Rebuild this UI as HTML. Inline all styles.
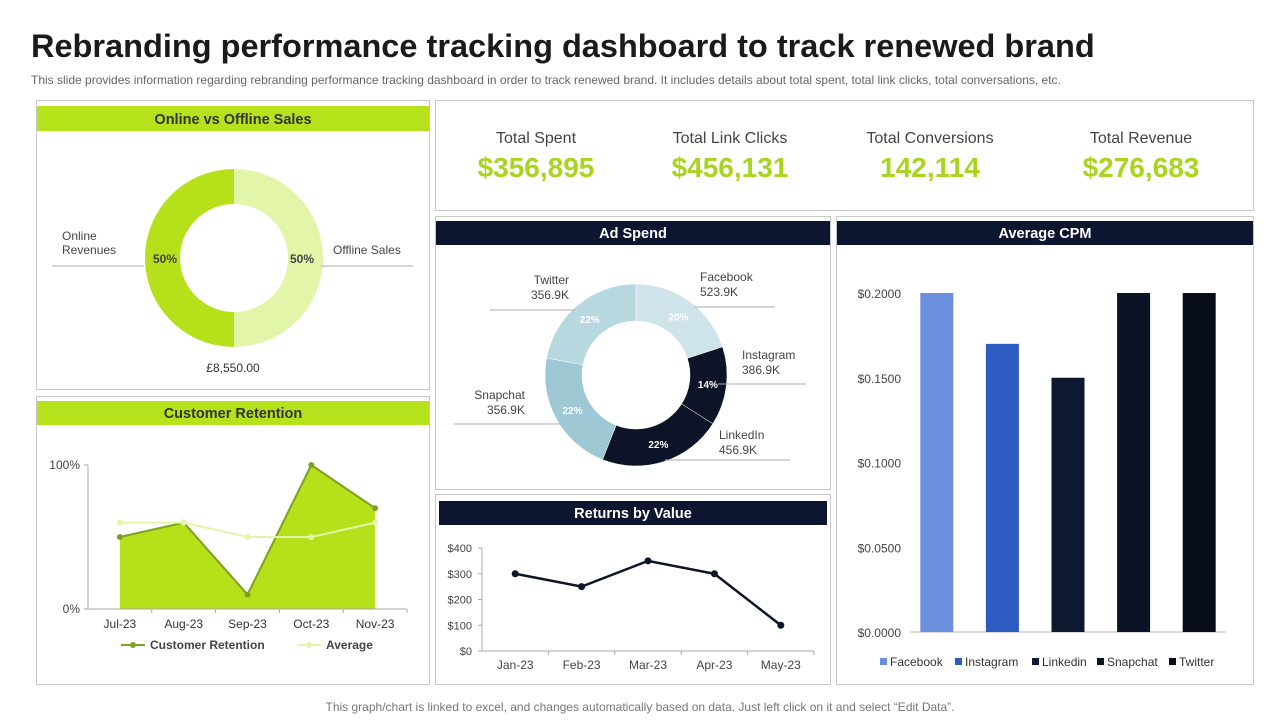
<!DOCTYPE html>
<html><head><meta charset="utf-8"><style>
body{margin:0;background:#fff;width:1280px;height:720px;overflow:hidden;font-family:"Liberation Sans",Arial,sans-serif}
svg{display:block}
text{font-family:"Liberation Sans",Arial,sans-serif}
</style></head><body>
<svg id="s" width="1280" height="720" viewBox="0 0 1280 720">
<text x="31" y="57" font-size="32.5" font-weight="bold" fill="#1a1a1a">Rebranding performance tracking dashboard to track renewed brand</text>
<text x="31" y="84" font-size="12" fill="#666">This slide provides information regarding rebranding performance tracking dashboard in order to track renewed brand. It includes details about total spent, total link clicks, total conversations, etc.</text>
<text x="640" y="711" font-size="12" fill="#777" text-anchor="middle">This graph/chart is linked to excel,  and changes automatically based on data. Just left click on it and select “Edit Data”.</text>

<g fill="#fff" stroke="#c8c8c8" stroke-width="1">
<rect x="36.5" y="100.5" width="393" height="289"/>
<rect x="36.5" y="396.5" width="393" height="288"/>
<rect x="435.5" y="100.5" width="818" height="110"/>
<rect x="435.5" y="216.5" width="395" height="273"/>
<rect x="435.5" y="494.5" width="395" height="190"/>
<rect x="836.5" y="216.5" width="417" height="468"/>
</g>
<rect x="37" y="106" width="392" height="25" fill="#b5e21a"/>
<text x="233" y="124" font-size="14.5" font-weight="bold" fill="#333" text-anchor="middle">Online vs Offline Sales</text>
<rect x="37" y="401" width="392" height="24" fill="#b5e21a"/>
<text x="233" y="418" font-size="14.5" font-weight="bold" fill="#333" text-anchor="middle">Customer Retention</text>
<rect x="436" y="221" width="394" height="24" fill="#0d1630"/>
<text x="633" y="238" font-size="14.5" font-weight="bold" fill="#fff" text-anchor="middle">Ad Spend</text>
<rect x="439" y="501" width="388" height="24" fill="#0d1630"/>
<text x="633" y="518" font-size="14.5" font-weight="bold" fill="#fff" text-anchor="middle">Returns by Value</text>
<rect x="837" y="221" width="416" height="24" fill="#0d1630"/>
<text x="1045" y="238" font-size="14.5" font-weight="bold" fill="#fff" text-anchor="middle">Average CPM</text>

<g id="kpis"></g>
<g id="od"></g>
<g id="ret"></g>
<g id="ad"></g>
<g id="rv"></g>
<g id="cpm"></g>
</svg>
<script>
const kpiLabels=["Total Spent","Total Link Clicks","Total Conversions","Total Revenue"];
const kpiValues=["$356,895","$456,131","142,114","$276,683"];
const onlineLabels=["Online Revenues","Offline Sales"];
const onlineShares=[50,50];
const retMonths=["Jul-23","Aug-23","Sep-23","Oct-23","Nov-23"];
const retValues=[50,60,10,100,70];
const retAverage=[60,60,50,50,60];
const adCats=["Facebook","Instagram","LinkedIn","Snapchat","Twitter"];
const adPct=[20,14,22,22,22];
const adVals=["523.9K","386.9K","456.9K","356.9K","356.9K"];
const rvMonths=["Jan-23","Feb-23","Mar-23","Apr-23","May-23"];
const rvValues=[300,250,350,300,100];
const rvTicks=[0,100,200,300,400];
const cpmCats=["Facebook","Instagram","Linkedin","Snapchat","Twitter"];
const cpmValues=[0.2,0.17,0.15,0.2,0.2];
const cpmTicks=[0,0.05,0.1,0.15,0.2];

const NS="http://www.w3.org/2000/svg";
function mk(p,tag,at,txt){const e=document.createElementNS(NS,tag);for(const k in at)e.setAttribute(k,at[k]);if(txt!=null)e.textContent=txt;p.appendChild(e);return e;}
function arc(cx,cy,r0,r1,a0,a1){const p=(r,a)=>[cx+r*Math.sin(a),cy-r*Math.cos(a)];const l=(a1-a0)>Math.PI?1:0;
const [x1,y1]=p(r1,a0),[x2,y2]=p(r1,a1),[x3,y3]=p(r0,a1),[x4,y4]=p(r0,a0);
return `M${x1} ${y1}A${r1} ${r1} 0 ${l} 1 ${x2} ${y2}L${x3} ${y3}A${r0} ${r0} 0 ${l} 0 ${x4} ${y4}Z`;}

// KPIs
const kg=document.getElementById('kpis');const kx=[536,730,930,1141];
kpiLabels.forEach((l,i)=>{
 const t=mk(kg,'text',{x:kx[i],y:143,'font-size':16,fill:'#444','text-anchor':'middle'},l);
 
 
 const v=mk(kg,'text',{x:kx[i],y:177,'font-size':28,'font-weight':'bold',fill:'#a9d420','text-anchor':'middle'},kpiValues[i]);
 
 
});

// Online vs offline donut
const og=document.getElementById('od');
{const cx=234,cy=258,tot=onlineShares.reduce((a,b)=>a+b,0);let a=0;const cols=["#e2f5a8","#b5e01a"];
 const order=[1,0];
 order.forEach((idx,j)=>{const s=onlineShares[idx]/tot*2*Math.PI;
  const p=mk(og,'path',{d:arc(cx,cy,54,89,a,a+s-0.0001),fill:cols[j]});
  
  
  a+=s;});
 mk(og,'line',{x1:52,y1:266,x2:144,y2:266,stroke:'#aaa'});
 mk(og,'line',{x1:321,y1:266,x2:413,y2:266,stroke:'#aaa'});
 mk(og,'text',{x:62,y:240,'font-size':12,fill:'#444'},"Online");
 mk(og,'text',{x:62,y:254,'font-size':12,fill:'#444'},"Revenues");
 mk(og,'text',{x:333,y:254,'font-size':12,fill:'#444'},onlineLabels[1]);
 mk(og,'text',{x:165,y:263,'font-size':12,'font-weight':'bold',fill:'#444','text-anchor':'middle'},onlineShares[0]+"%");
 mk(og,'text',{x:302,y:263,'font-size':12,'font-weight':'bold',fill:'#444','text-anchor':'middle'},onlineShares[1]+"%");
 mk(og,'text',{x:233,y:372,'font-size':12,fill:'#333','text-anchor':'middle'},"£8,550.00");
}

// Retention area chart
const rg=document.getElementById('ret');
{const x0=88,x1=407,y0=609,y1=465;const n=retMonths.length;const bw=(x1-x0)/n;
 const X=i=>x0+bw*(i+0.5),Y=v=>y0-(y0-y1)*v/100;
 let d=`M${X(0)} ${y0}`;retValues.forEach((v,i)=>d+=`L${X(i)} ${Y(v)}`);d+=`L${X(n-1)} ${y0}Z`;
 const ar=mk(rg,'path',{d:d,fill:'#b5e01a'});
 
 
 mk(rg,'polyline',{points:retValues.map((v,i)=>X(i)+','+Y(v)).join(' '),fill:'none',stroke:'#7fa020','stroke-width':2});
 retValues.forEach((v,i)=>{const c=mk(rg,'circle',{cx:X(i),cy:Y(v),r:3,fill:'#7fa020'});
  
  });
 mk(rg,'polyline',{points:retAverage.map((v,i)=>X(i)+','+Y(v)).join(' '),fill:'none',stroke:'#e2f5a8','stroke-width':2});
 retAverage.forEach((v,i)=>{const c=mk(rg,'circle',{cx:X(i),cy:Y(v),r:3,fill:'#e2f5a8'});
  
  });
 mk(rg,'line',{x1:x0,y1:y1,x2:x0,y2:y0,stroke:'#aaa'});
 mk(rg,'line',{x1:x0,y1:y0,x2:x1,y2:y0,stroke:'#aaa'});
 [0,100].forEach(t=>{mk(rg,'line',{x1:x0-4,y1:Y(t),x2:x0,y2:Y(t),stroke:'#aaa'});
  mk(rg,'text',{x:80,y:Y(t)+4,'font-size':12,fill:'#444','text-anchor':'end'},t+"%");});
 retMonths.forEach((m,i)=>{mk(rg,'line',{x1:x0+bw*(i+1),y1:y0,x2:x0+bw*(i+1),y2:y0+4,stroke:'#aaa'});
  mk(rg,'text',{x:X(i),y:628,'font-size':12,fill:'#333','text-anchor':'middle'},m);});
 mk(rg,'line',{x1:121,y1:645,x2:145,y2:645,stroke:'#7fa020','stroke-width':2});mk(rg,'circle',{cx:133,cy:645,r:3,fill:'#7fa020'});
 mk(rg,'text',{x:150,y:649,'font-size':12,'font-weight':'bold',fill:'#444'},"Customer Retention");
 mk(rg,'line',{x1:297,y1:645,x2:321,y2:645,stroke:'#e2f5a8','stroke-width':2});mk(rg,'circle',{cx:309,cy:645,r:3,fill:'#e2f5a8'});
 mk(rg,'text',{x:326,y:649,'font-size':12,'font-weight':'bold',fill:'#444'},"Average");
}

// Ad spend donut
const ag=document.getElementById('ad');
{const cx=636,cy=375,r0=54,r1=91;const tot=adPct.reduce((a,b)=>a+b,0);
 const cols=["#cfe3ea","#0d1428","#0d1428","#9ec9d4","#b8d8e0"];
 const lab=[[700,281,'start'],[742,359,'start'],[719,439,'start'],[525,399,'end'],[569,284,'end']];
 const lines=[[694,307,775,307],[718,384,806,384],[665,460,790,460],[454,424,562,424],[490,310,575,310]];
 let a=0;
 adPct.forEach((p,i)=>{const s=p/tot*2*Math.PI;
  const pa=mk(ag,'path',{d:arc(cx,cy,r0,r1,a,a+s),fill:cols[i],stroke:'#fff','stroke-width':0.5});
  
  
  const m=a+s/2,rr=(r0+r1)/2;
  mk(ag,'text',{x:cx+rr*Math.sin(m),y:cy-rr*Math.cos(m)+4,'font-size':10,'font-weight':'bold',fill:'#fff','text-anchor':'middle'},p+"%");
  const L=lines[i];mk(ag,'line',{x1:L[0],y1:L[1],x2:L[2],y2:L[3],stroke:'#aaa'});
  mk(ag,'text',{x:lab[i][0],y:lab[i][1],'font-size':12,fill:'#444','text-anchor':lab[i][2]},adCats[i]);
  mk(ag,'text',{x:lab[i][0],y:lab[i][1]+15,'font-size':12,fill:'#444','text-anchor':lab[i][2]},adVals[i]);
  a+=s;});
}

// Returns line
const vg=document.getElementById('rv');
{const x0=482,x1=814,y0=651,y1=548;const n=rvMonths.length,bw=(x1-x0)/n;
 const X=i=>x0+bw*(i+0.5),Y=v=>y0-(y0-y1)*v/400;
 mk(vg,'line',{x1:x0,y1:y1,x2:x0,y2:y0,stroke:'#aaa'});mk(vg,'line',{x1:x0,y1:y0,x2:x1,y2:y0,stroke:'#aaa'});
 rvTicks.forEach(t=>{mk(vg,'line',{x1:x0-4,y1:Y(t),x2:x0,y2:Y(t),stroke:'#aaa'});
  mk(vg,'text',{x:472,y:Y(t)+4,'font-size':11,fill:'#444','text-anchor':'end'},"$"+t);});
 rvMonths.forEach((m,i)=>{mk(vg,'line',{x1:x0+bw*(i+1),y1:y0,x2:x0+bw*(i+1),y2:y0+4,stroke:'#aaa'});
  mk(vg,'text',{x:X(i),y:669,'font-size':12,fill:'#444','text-anchor':'middle'},m);});
 mk(vg,'polyline',{points:rvValues.map((v,i)=>X(i)+','+Y(v)).join(' '),fill:'none',stroke:'#0d1428','stroke-width':2.5});
 rvValues.forEach((v,i)=>{const c=mk(vg,'circle',{cx:X(i),cy:Y(v),r:3.5,fill:'#0d1428'});
  
  });
}

// CPM bars
const cg=document.getElementById('cpm');
{const x0=904,x1=1232,y0=632,y1=293;const n=cpmCats.length,bw=(x1-x0)/n;
 const X=i=>x0+bw*(i+0.5),Y=v=>y0-(y0-y1)*v/0.2;
 const cols=["#6b8fdc","#2e5bc2","#0e1830","#0b1326","#080d1c"];
 cpmTicks.forEach(t=>mk(cg,'text',{x:901,y:Y(t)+5,'font-size':12,fill:'#444','text-anchor':'end'},"$"+t.toFixed(4)));
 mk(cg,'line',{x1:910,y1:y0,x2:1226,y2:y0,stroke:'#bbb'});
 cpmValues.forEach((v,i)=>{const b=mk(cg,'rect',{x:X(i)-16.5,y:Y(v),width:33,height:y0-Y(v),fill:cols[i]});
  
  });
 const lx=[880,955,1032,1097,1169];
 cpmCats.forEach((c,i)=>{mk(cg,'rect',{x:lx[i],y:658,width:7,height:7,fill:cols[i]});
  const t=mk(cg,'text',{x:lx[i]+10,y:666,'font-size':12,fill:'#333'},c);
  
  });
}
</script>
</body></html>
